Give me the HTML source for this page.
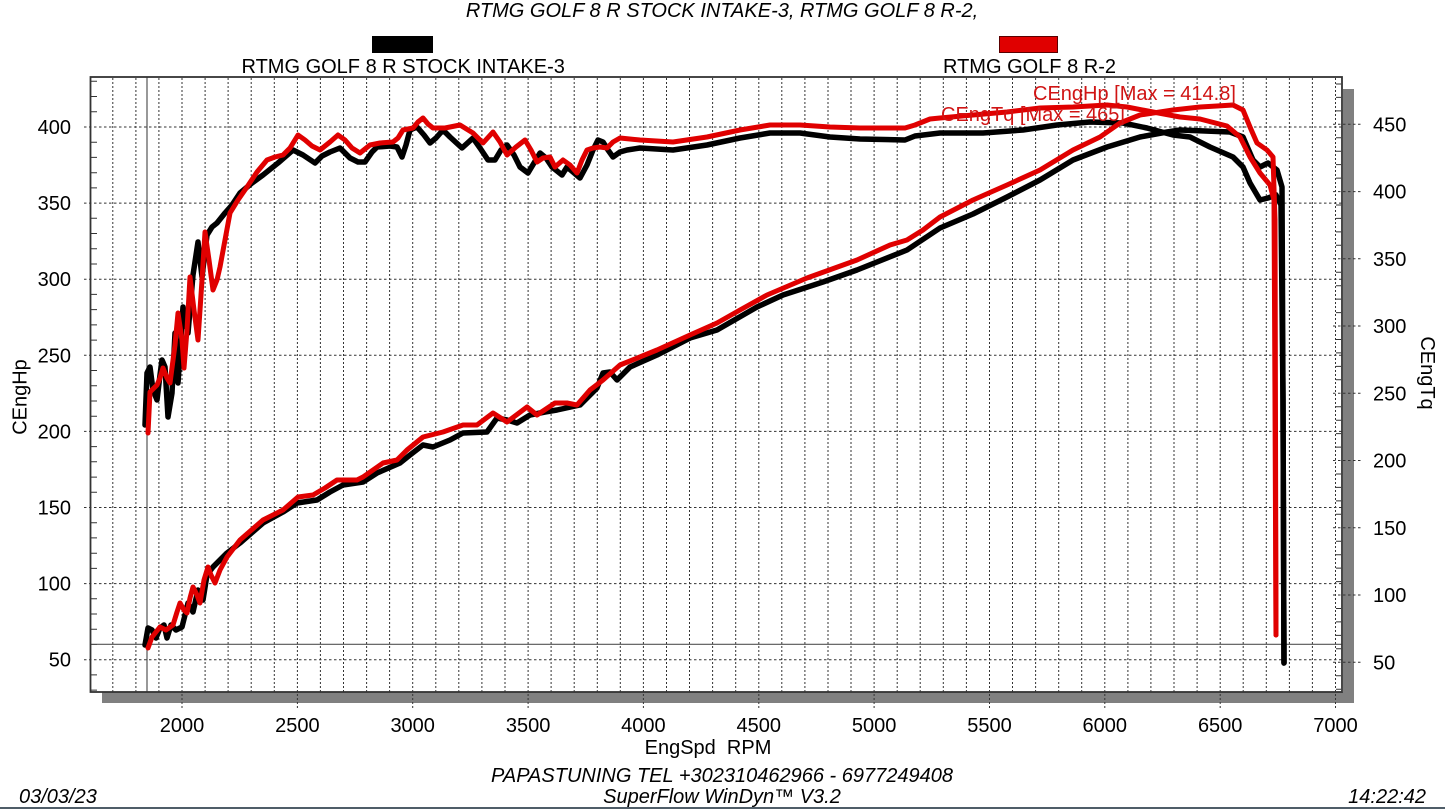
<!DOCTYPE html>
<html>
<head>
<meta charset="utf-8">
<style>
html,body{margin:0;padding:0;background:#fff;}
svg{display:block;}
text{font-family:"Liberation Sans",Arial,sans-serif;}
</style>
</head>
<body>
<svg width="1445" height="809" viewBox="0 0 1445 809" xmlns="http://www.w3.org/2000/svg">
<rect x="0" y="0" width="1445" height="809" fill="#fff"/>

<!-- Title -->
<text x="722" y="17" font-size="20" font-style="italic" text-anchor="middle" fill="#000">RTMG GOLF 8 R STOCK INTAKE-3, RTMG GOLF 8 R-2,</text>

<!-- Legend -->
<rect x="372" y="36" width="61" height="17" fill="#000"/>
<text x="241.5" y="73" font-size="20" fill="#000">RTMG GOLF 8 R STOCK INTAKE-3</text>
<rect x="999.5" y="36.5" width="58" height="16" fill="#e00000" stroke="#5a0000" stroke-width="1"/>
<text x="943" y="73" font-size="20" fill="#000">RTMG GOLF 8 R-2</text>

<!-- Shadows -->
<rect x="102" y="692" width="1252" height="11" fill="#808080"/>
<rect x="1343" y="89" width="11" height="614" fill="#808080"/>

<!-- Plot background -->
<rect x="90" y="77" width="1252" height="615" fill="#fff"/>

<!-- Vertical minor grid (dotted) -->
<path fill="none" stroke="#333" stroke-width="1" stroke-dasharray="2,2"
d="M112.8 78V692M135.9 78V692M158.9 78V692M205.1 78V692M228.1 78V692M251.2 78V692M274.3 78V692M320.4 78V692M343.5 78V692M366.6 78V692M389.6 78V692M435.8 78V692M458.8 78V692M481.9 78V692M505 78V692M551.1 78V692M574.2 78V692M597.3 78V692M620.3 78V692M666.5 78V692M689.5 78V692M712.6 78V692M735.7 78V692M781.8 78V692M804.9 78V692M828 78V692M851 78V692M897.2 78V692M920.2 78V692M943.3 78V692M966.4 78V692M1012.5 78V692M1035.6 78V692M1058.7 78V692M1081.7 78V692M1127.9 78V692M1150.9 78V692M1174 78V692M1197.1 78V692M1243.2 78V692M1266.3 78V692M1289.4 78V692M1312.4 78V692"/>
<!-- Vertical major grid (extends below) -->
<path fill="none" stroke="#333" stroke-width="1" stroke-dasharray="2,2"
d="M182 78V708M297.4 78V708M412.7 78V708M528.1 78V708M643.4 78V708M758.8 78V708M874.1 78V708M989.5 78V708M1104.8 78V708M1220.2 78V708M1335.5 78V708"/>

<!-- Horizontal grid (left axis majors) -->
<path fill="none" stroke="#333" stroke-width="1" stroke-dasharray="2.5,2.5"
d="M84 127H1342M84 203.1H1342M84 279.2H1342M84 355.3H1342M84 431.4H1342M84 507.5H1342M84 583.6H1342M84 659.7H1342"/>

<!-- Left minor ticks -->
<path fill="none" stroke="#333" stroke-width="1"
d="M91 81.3H97M91 96.5H97M91 111.8H97M91 142.2H97M91 157.4H97M91 172.7H97M91 187.9H97M91 218.3H97M91 233.5H97M91 248.8H97M91 264H97M91 294.4H97M91 309.6H97M91 324.9H97M91 340.1H97M91 370.5H97M91 385.7H97M91 401H97M91 416.2H97M91 446.6H97M91 461.8H97M91 477.1H97M91 492.3H97M91 522.7H97M91 537.9H97M91 553.2H97M91 568.4H97M91 598.8H97M91 614H97M91 629.3H97M91 644.5H97M91 674.9H97M91 690.1H97"/>

<!-- Right major ticks -->
<path fill="none" stroke="#333" stroke-width="1" stroke-dasharray="2.5,2.5"
d="M1333 124.3H1362M1333 191.6H1362M1333 258.8H1362M1333 326H1362M1333 393.3H1362M1333 460.5H1362M1333 527.8H1362M1333 595H1362M1333 662.3H1362"/>
<!-- Right minor ticks -->
<path fill="none" stroke="#333" stroke-width="1"
d="M1336 84H1341M1336 97.4H1341M1336 110.9H1341M1336 137.8H1341M1336 151.2H1341M1336 164.6H1341M1336 178.1H1341M1336 205H1341M1336 218.4H1341M1336 231.9H1341M1336 245.3H1341M1336 272.2H1341M1336 285.7H1341M1336 299.1H1341M1336 312.6H1341M1336 339.5H1341M1336 352.9H1341M1336 366.4H1341M1336 379.8H1341M1336 406.7H1341M1336 420.2H1341M1336 433.6H1341M1336 447.1H1341M1336 474H1341M1336 487.4H1341M1336 500.9H1341M1336 514.3H1341M1336 541.2H1341M1336 554.7H1341M1336 568.1H1341M1336 581.6H1341M1336 608.5H1341M1336 621.9H1341M1336 635.4H1341M1336 648.8H1341M1336 675.7H1341M1336 689.2H1341"/>

<!-- Cursor lines -->
<line x1="147" y1="77" x2="147" y2="692" stroke="#555" stroke-width="1.2"/>
<line x1="90" y1="644.3" x2="1342" y2="644.3" stroke="#555" stroke-width="1.2"/>

<!-- Plot border -->
<rect x="90.5" y="77" width="1251.5" height="615" fill="none" stroke="#333" stroke-width="1.8"/>

<!-- Curves: black -->
<g fill="none" stroke="#000" stroke-width="5.5" stroke-linejoin="round" stroke-linecap="round">
<path d="M145,425 L147,373 L150,367 L153,390 L157,400 L160,375 L162,360 L165,367 L168,417 L172,393 L175,333 L178,383 L183,307 L188,333 L193,275 L198,242 L202,277 L207,235 L212,227 L217,223 L225,213 L232,205 L240,193 L252,183 L263,175 L278,163 L293,150 L303,155 L315,163 L322,156 L330,152 L340,148 L350,158 L358,162 L365,162 L372,152 L377,147 L390,146 L397,147 L402,157 L406,145 L410,130 L417,127 L424,135 L430,143 L436,138 L443,130 L450,137 L462,148 L473,138 L480,148 L488,160 L495,160 L501,150 L507,145 L514,155 L520,167 L528,173 L534,163 L540,153 L546,158 L552,167 L562,175 L567,167 L573,172 L580,178 L587,165 L593,150 L598,140 L603,142 L608,150 L613,157 L620,152 L627,150 L640,148 L673,150 L707,145 L740,138 L770,133 L800,133 L830,137 L860,139 L905,140 L915,136 L940,133 L983,133 L1023,130 L1057,125 L1090,122 L1123,123 L1147,128 L1173,135 L1190,137 L1210,147 L1233,157 L1243,167 L1250,183 L1260,200 L1268,198 L1276,195 L1281,205 L1283,400 L1284,663"/>
<path d="M145,645 L148,628 L152,630 L156,638 L160,628 L164,625 L167,638 L171,625 L176,630 L182,627 L188,603 L193,612 L198,590 L203,600 L207,575 L213,567 L218,562 L227,553 L240,543 L263,523 L283,512 L297,503 L317,500 L330,492 L343,485 L363,482 L377,473 L400,463 L410,455 L423,445 L433,447 L450,440 L463,433 L487,432 L497,418 L507,420 L517,423 L530,415 L545,412 L557,410 L580,405 L590,395 L597,388 L603,373 L610,372 L617,380 L630,367 L657,355 L690,338 L717,330 L757,307 L783,295 L823,282 L857,270 L907,250 L940,228 L973,214 L1007,197 L1040,180 L1073,160 L1107,147 L1140,137 L1167,132 L1180,130 L1230,132 L1243,137 L1253,160 L1260,167 L1268,163 L1277,170 L1282,187 L1283,400 L1284,663"/>
</g>

<!-- Curves: red -->
<g fill="none" stroke="#e00000" stroke-width="5" stroke-linejoin="round" stroke-linecap="round">
<path d="M148,433 L150,392 L154,388 L157,385 L160,378 L163,368 L167,378 L170,383 L175,345 L178,313 L182,340 L184,368 L187,330 L190,277 L194,310 L198,340 L202,280 L205,232 L209,260 L213,290 L217,280 L220,267 L225,240 L230,213 L238,200 L247,187 L257,172 L267,160 L275,157 L283,155 L290,148 L298,135 L305,140 L312,146 L320,150 L330,142 L338,135 L345,140 L352,148 L360,153 L365,149 L370,145 L380,143 L393,142 L398,138 L403,130 L413,128 L418,122 L423,118 L428,124 L433,128 L445,128 L460,125 L473,133 L483,143 L493,132 L500,142 L507,155 L516,147 L525,140 L531,150 L537,162 L543,158 L550,157 L555,167 L563,160 L570,165 L577,173 L582,160 L587,150 L593,148 L600,147 L607,148 L613,142 L620,138 L640,140 L673,142 L707,137 L740,130 L770,125 L800,125 L830,127 L860,128 L905,128 L915,125 L930,119 L940,118 L973,115 L1007,112 L1040,108 L1073,107 L1107,105 L1127,107 L1153,112 L1180,117 L1200,119 L1227,126 L1240,137 L1250,157 L1260,173 L1270,185 L1274,200 L1275,400 L1276,635"/>
<path d="M148,648 L152,637 L156,632 L160,627 L166,630 L173,625 L177,612 L180,603 L184,610 L187,613 L190,598 L193,587 L197,595 L200,603 L204,580 L208,567 L211,575 L215,583 L220,570 L227,557 L240,540 L263,520 L283,510 L298,497 L313,495 L325,488 L337,480 L357,480 L363,477 L383,463 L397,460 L407,450 L423,437 L443,432 L463,425 L477,425 L493,413 L507,422 L527,407 L537,415 L555,403 L567,403 L577,405 L590,390 L603,380 L620,365 L657,350 L690,335 L717,323 L740,310 L767,295 L807,278 L857,260 L890,245 L907,240 L923,230 L940,217 L973,200 L1007,185 L1040,170 L1073,150 L1100,137 L1120,123 L1140,115 L1173,110 L1200,107 L1217,106 L1233,105 L1243,110 L1250,127 L1257,143 L1267,150 L1273,157 L1275,220 L1276,635"/>
</g>

<!-- Annotations -->
<text x="1033" y="100" font-size="20" fill="#d01414">CEngHp [Max = 414.8]</text>
<text x="941" y="121" font-size="20" fill="#d01414">CEngTq [Max = 465]</text>

<!-- Left axis labels -->
<g font-size="20" fill="#000" text-anchor="end">
<text x="71" y="134">400</text>
<text x="71" y="210.1">350</text>
<text x="71" y="286.2">300</text>
<text x="71" y="362.3">250</text>
<text x="71" y="438.4">200</text>
<text x="71" y="514.5">150</text>
<text x="71" y="590.6">100</text>
<text x="71" y="666.7">50</text>
</g>

<!-- Right axis labels -->
<g font-size="20" fill="#000">
<text x="1373" y="131.3">450</text>
<text x="1373" y="198.6">400</text>
<text x="1373" y="265.8">350</text>
<text x="1373" y="333">300</text>
<text x="1373" y="400.3">250</text>
<text x="1373" y="467.5">200</text>
<text x="1373" y="534.8">150</text>
<text x="1373" y="602">100</text>
<text x="1373" y="669.3">50</text>
</g>

<!-- X axis labels -->
<g font-size="20" fill="#000" text-anchor="middle">
<text x="182" y="732">2000</text>
<text x="297.4" y="732">2500</text>
<text x="412.7" y="732">3000</text>
<text x="528.1" y="732">3500</text>
<text x="643.4" y="732">4000</text>
<text x="758.8" y="732">4500</text>
<text x="874.1" y="732">5000</text>
<text x="989.5" y="732">5500</text>
<text x="1104.8" y="732">6000</text>
<text x="1220.2" y="732">6500</text>
<text x="1335.5" y="732">7000</text>
</g>

<!-- Axis titles -->
<text transform="translate(26.5,397) rotate(-90)" font-size="20" text-anchor="middle" fill="#000">CEngHp</text>
<text transform="translate(1421,373) rotate(90)" font-size="20" text-anchor="middle" fill="#000">CEngTq</text>
<text x="708" y="754" font-size="20" text-anchor="middle" fill="#000" xml:space="preserve">EngSpd  RPM</text>

<!-- Footer -->
<text x="722" y="782" font-size="20" font-style="italic" text-anchor="middle" fill="#000">PAPASTUNING TEL +302310462966 - 6977249408</text>
<text x="722" y="803" font-size="20" font-style="italic" text-anchor="middle" fill="#000">SuperFlow WinDyn™ V3.2</text>
<text x="19" y="803" font-size="20" font-style="italic" fill="#000">03/03/23</text>
<text x="1426" y="803" font-size="20" font-style="italic" text-anchor="end" fill="#000">14:22:42</text>

<rect x="0" y="807" width="1445" height="2" fill="#4f5d68"/>
</svg>
</body>
</html>
